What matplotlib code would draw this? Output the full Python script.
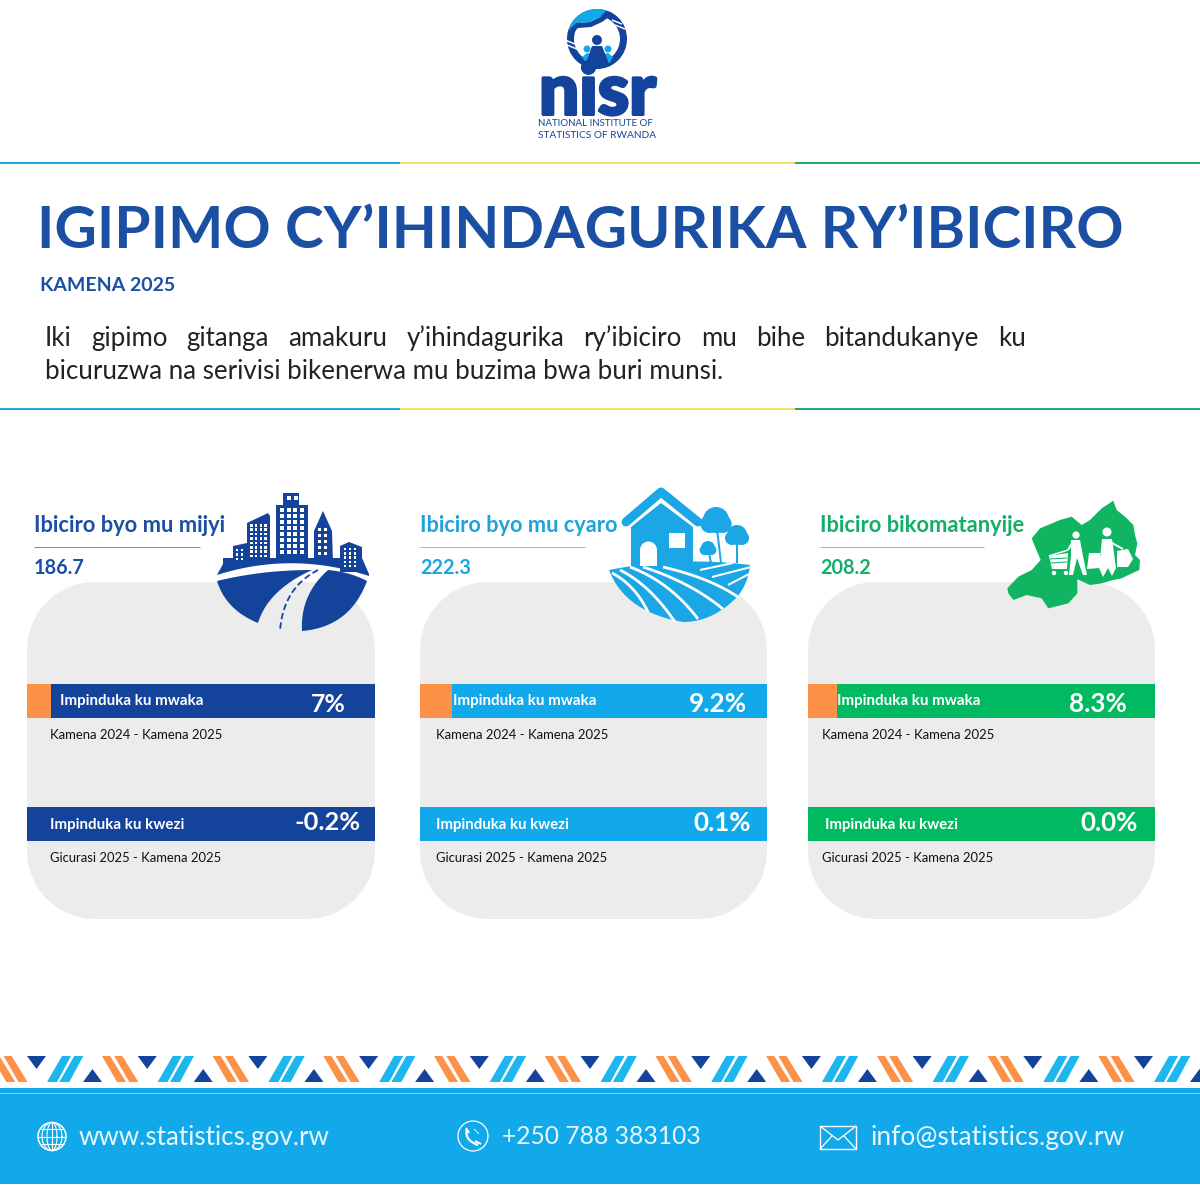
import matplotlib
matplotlib.use("Agg")
import matplotlib.pyplot as plt
import matplotlib.patheffects as pe
import numpy as np
from matplotlib.patches import Polygon, Circle, Rectangle
plt.rcParams['font.family'] = ['Lato', 'Open Sans', 'DejaVu Sans']

# values
card_titles = ["Ibiciro byo mu mijyi", "Ibiciro byo mu cyaro", "Ibiciro bikomatanyije"]
index_values = ["186.7", "222.3", "208.2"]
year_changes = ["7%", "9.2%", "8.3%"]
month_changes = ["-0.2%", "0.1%", "0.0%"]
year_label = "Impinduka ku mwaka"
month_label = "Impinduka ku kwezi"
year_period = "Kamena 2024 - Kamena 2025"
month_period = "Gicurasi 2025 - Kamena 2025"
footer_texts = ["www.statistics.gov.rw", "+250 788 383103", "info@statistics.gov.rw"]
para_line1 = ["Iki", "gipimo", "gitanga", "amakuru", "y\u2019ihindagurika", "ry\u2019ibiciro",
              "mu", "bihe", "bitandukanye", "ku"]
para_line2 = "bicuruzwa na serivisi bikenerwa mu buzima bwa buri munsi."

NAVY = '#14439C'
SKY = '#12A9EA'
GREEN = '#00B960'
ORANGE = '#FC9147'
GREY = '#ECECEC'
TITLE_BLUE = '#1B4FA3'

fig = plt.figure(figsize=(12, 11.85), dpi=100)
ax = fig.add_axes([0, 0, 1, 1])
ax.set_xlim(0, 1200)
ax.set_ylim(1185, 0)
ax.axis('off')
renderer = fig.canvas.get_renderer()


# text that fills a given pixel span, like in the reference
def put(x0, x1, y, s, color, weight='normal', zorder=6):
    t = ax.text(x0, y, s, color=color, fontweight=weight, va='center_baseline', ha='left',
                fontsize=20, zorder=zorder)
    w = t.get_window_extent(renderer).width
    t.set_fontsize(20 * (x1 - x0) / w)
    return t


def rect(x0, y0, x1, y1, color, zorder=2):
    ax.add_patch(Rectangle((x0, y0), x1 - x0, y1 - y0, fc=color, ec='none', zorder=zorder))


def poly(pts, color, zorder=4):
    p = Polygon(pts, closed=True, fc=color, ec='none', zorder=zorder)
    ax.add_patch(p)
    return p


# points along a quadratic curve
def bez(p0, c, p1, n=24):
    t = np.linspace(0, 1, n)[:, None]
    p0, c, p1 = np.array(p0), np.array(c), np.array(p1)
    return (1 - t) ** 2 * p0 + 2 * t * (1 - t) * c + t ** 2 * p1


def arc_line(p0, c, p1, color, lw, zorder=5, **kw):
    pts = bez(p0, c, p1)
    ax.plot(pts[:, 0], pts[:, 1], color=color, lw=lw * 0.72, zorder=zorder, solid_capstyle='butt', **kw)


def circle(x, y, r, color, zorder=4):
    ax.add_patch(Circle((x, y), r, fc=color, ec='none', zorder=zorder))


def line(xs, ys, color, lw, zorder=5, cap='butt', **kw):
    ax.plot(xs, ys, color=color, lw=lw * 0.72, zorder=zorder, solid_capstyle=cap, **kw)


def round_box(x0, y0, x1, y1, r, color, zorder=1):
    th = np.linspace(0, np.pi / 2, 30)
    pts = []
    for cx, cy, start in [(x1 - r, y0 + r, -np.pi / 2), (x1 - r, y1 - r, 0),
                          (x0 + r, y1 - r, np.pi / 2), (x0 + r, y0 + r, np.pi)]:
        pts.append(np.c_[cx + r * np.cos(start + th), cy + r * np.sin(start + th)])
    poly(np.vstack(pts), color, zorder=zorder)


# ---------- logo
clip_disc = Circle((597, 39), 30, transform=ax.transData)
ax.add_patch(Circle((597, 39), 26.5, fc='none', ec=NAVY, lw=7 * 0.72, zorder=3))
navy_cap = poly([(608, 12), (600, 17), (590, 22), (576, 23), (566, 33), (570, 36), (578, 28), (591, 27), (602, 22),
                 (609, 17), (618, 24), (628, 30), (630, 5), (612, 2)], NAVY, zorder=3)
navy_cap.set_clip_path(clip_disc)
sky_cap = poly([(566, 33), (576, 23), (590, 22), (600, 17), (606, 11), (608, 4), (590, 2), (566, 12)], SKY, zorder=4)
sky_cap.set_clip_path(clip_disc)
for bx, by in [(570, 42), (572, 47), (617, 22), (620, 27)]:
    line([bx - 5, bx + 5], [by - 2, by + 2], 'white', 1.5, zorder=6)
circle(587, 49, 3.5, SKY)
circle(608, 49, 3.5, SKY)
poly([(582, 57), (587, 53), (591, 54), (594, 66), (586, 63)], SKY)
poly([(604, 54), (608, 53), (613, 57), (609, 64), (601, 66)], SKY)
circle(597, 40, 5, NAVY, zorder=5)
poly([(592, 46), (602, 46), (610, 66), (597, 69), (585, 66)], NAVY, zorder=5)
t = ax.text(539, 114.5, "nisr", color=NAVY, fontweight='black', fontsize=60, va='baseline', ha='left', zorder=6)
w = t.get_window_extent(renderer).width
t.set_fontsize(60 * 117 / w)
t.set_path_effects([pe.withStroke(linewidth=2.2, foreground=NAVY)])
put(538, 654, 123, "NATIONAL INSTITUTE OF", NAVY)
put(538, 656, 135, "STATISTICS OF RWANDA", NAVY)

# ---------- rules
for y in [163, 409]:
    rect(0, y - 1.2, 400, y + 1.2, '#1FA9D6')
    rect(400, y - 1.2, 795, y + 1.2, '#F7DE6E')
    rect(795, y - 1.2, 1200, y + 1.2, '#1EAE6B')

# ---------- heading
put(37, 1122, 226, "IGIPIMO CY\u2019IHINDAGURIKA RY\u2019IBICIRO", TITLE_BLUE, 'bold')
put(40, 175, 284, "KAMENA 2025", TITLE_BLUE, 'bold')
last = put(45, 724, 369, para_line2, '#222222')
para_size = last.get_fontsize()
word_boxes = []
for word in para_line1:
    word_boxes.append(ax.text(45, 336, word, color='#222222', va='center_baseline', ha='left',
                              fontsize=para_size, zorder=6))
word_w = [b.get_window_extent(renderer).width for b in word_boxes]
gap = (1026 - 45 - sum(word_w)) / (len(word_w) - 1)
cursor = 45
for b, ww in zip(word_boxes, word_w):
    b.set_x(cursor)
    cursor += ww + gap

# ---------- cards
card_x = [(27, 375), (420, 767), (808, 1155)]
card_colors = [NAVY, SKY, GREEN]
title_colors = [TITLE_BLUE, '#1FA3DC', '#12AE6A']
title_x = [(34, 225), (420, 617), (820, 1024)]
rule_x = [(34, 200), (420, 585), (820, 984)]
value_x = [(34, 85), (420, 471), (820, 871)]
orange_end = [51, 452, 837]
year_label_x = [(60, 203), (453, 596), (837, 980)]
year_value_x = [(311, 346), (689, 747), (1069, 1127)]
month_label_x = [(50, 184), (436, 569), (825, 958)]
month_value_x = [(295, 361), (693, 751), (1080, 1138)]
period_x = [50, 436, 822]

for i in range(3):
    x0, x1 = card_x[i]
    round_box(x0, 582, x1, 919, 68, GREY)
    c = card_colors[i]
    put(title_x[i][0], title_x[i][1], 524, card_titles[i], title_colors[i], 'bold')
    line(rule_x[i], [547, 547], c, 1.0, alpha=0.6)
    put(value_x[i][0], value_x[i][1], 566, index_values[i], title_colors[i], 'bold')

    rect(x0, 684, x1, 718, c)
    rect(x0, 684, orange_end[i], 718, ORANGE, zorder=3)
    rect(x0, 807, x1, 841, c)
    put(year_label_x[i][0], year_label_x[i][1], 700, year_label, 'white', 'bold')
    put(year_value_x[i][0], year_value_x[i][1], 702, year_changes[i], 'white', 'bold')
    put(month_label_x[i][0], month_label_x[i][1], 823, month_label, 'white', 'bold')
    put(month_value_x[i][0], month_value_x[i][1], 821, month_changes[i], 'white', 'bold')
    put(period_x[i], period_x[i] + 172, 734, year_period, '#111111')
    put(period_x[i], period_x[i] + 171, 857, month_period, '#111111')

# ---------- city icon
for b in [[(233, 546), (247, 543), (247, 562), (233, 562)],
          [(247, 523), (268, 513), (270, 516), (270, 562), (247, 562)],
          [(276, 505), (283, 505), (283, 493), (299, 493), (299, 505), (308, 505), (308, 562), (276, 562)],
          [(314, 531), (323, 511), (332, 531), (333, 562), (314, 562)],
          [(340, 546), (349, 542), (362, 547), (362, 572), (340, 572)]]:
    poly(b, NAVY, zorder=3)
base = np.vstack([[(223, 558), (362, 558), (369, 574)], bez((369, 576), (292, 551), (217, 575)), [(223, 564)]])
poly(base, NAVY, zorder=3)
for gx, gy, nx, ny, s, dx, dy in [(280, 508, 4, 8, 4, 6.6, 6), (287, 496, 2, 1, 4, 6.6, 5),
                                  (250, 524, 4, 8, 2.6, 4.8, 4.4), (236, 549, 2, 3, 2.4, 4.5, 4.4),
                                  (318, 528, 2, 5, 3.4, 6, 6), (344, 548, 3, 5, 2.4, 5, 4.2)]:
    for a in range(nx):
        for b in range(ny):
            rect(gx + a * dx, gy + b * dy, gx + a * dx + s, gy + b * dy + s, 'white', zorder=4)
left_bowl = np.vstack([bez((217, 581), (262, 570), (312, 570)), bez((312, 570), (268, 590), (258, 623)),
                       bez((258, 623), (226, 610), (217, 581))])
right_bowl = np.vstack([bez((328, 570), (350, 572), (367, 581)), bez((367, 581), (350, 627), (302, 631)),
                        bez((302, 631), (300, 595), (328, 570))])
poly(left_bowl, NAVY)
poly(right_bowl, NAVY)
arc_line((318, 570), (283, 588), (280, 631), NAVY, 1.8, linestyle=(0, (3.5, 1.8)))

# ---------- house icon
SKY_ICON = '#1BA7E6'
poly([(631, 527), (661, 503), (693, 527), (693, 568), (631, 568)], SKY_ICON)
line([626, 661, 698], [522, 492, 522], SKY_ICON, 9, cap='round', solid_joinstyle='round')
rect(669, 533, 685, 548, 'white', zorder=5)
rect(640, 550, 657, 566, 'white', zorder=5)
circle(648.5, 550, 8.5, 'white', zorder=5)
for tx, ty, r, fx in [(716, 520, 13, 721), (737, 535, 10, 737), (708, 548, 7, 711)]:
    circle(tx, ty, r, SKY_ICON)
    circle(tx - r * 0.5, ty + r * 0.3, r * 0.7, SKY_ICON)
    circle(tx + r * 0.5, ty + r * 0.3, r * 0.7, SKY_ICON)
    line([tx, fx], [ty, 563], SKY_ICON, 2)
field = np.vstack([bez((609, 570), (680, 556), (750, 565)), bez((750, 565), (748, 585), (736, 598)),
                   bez((736, 598), (712, 622), (683, 622)), bez((683, 622), (625, 612), (609, 570))])
poly(field, SKY_ICON)
for sx, sy, cx, cy, ex, ey in [(612, 573, 635, 585, 648, 612), (620, 570, 650, 585, 675, 622),
                               (630, 567, 670, 582, 698, 619), (643, 567, 690, 582, 723, 609),
                               (663, 567, 710, 578, 738, 597)]:
    arc_line((sx, sy), (cx, cy), (ex, ey), 'white', 2.8)
line([700, 733], [570, 563], 'white', 2)
line([712, 751], [577, 567], 'white', 2)
line([728, 751], [585, 573], 'white', 2)

# ---------- map icon
map_z = np.array([(695, 175), (720, 145), (780, 120), (815, 110), (845, 135), (870, 120), (905, 85), (940, 62),
                  (950, 90), (975, 110), (1000, 135), (1005, 165), (1012, 190), (1005, 225), (1020, 240),
                  (1018, 270), (985, 285), (965, 295), (940, 300), (905, 310), (870, 315), (832, 298),
                  (832, 340), (805, 370), (745, 385), (725, 355), (680, 345), (640, 360), (625, 340),
                  (622, 325), (655, 290), (695, 270), (722, 240), (705, 200)])
poly(map_z / 3 + [800, 480], '#10B562')
# shopper with cart
circle(1076, 535, 3.6, 'white', zorder=5)
poly([(1071, 540), (1080, 540), (1083, 556), (1087, 575), (1083, 575), (1077, 558), (1073, 575),
      (1069, 575), (1071, 555)], 'white', zorder=5)
line([1072, 1068], [543, 550], 'white', 2)
line([1049, 1068], [556, 550], 'white', 1.6)
poly([(1049, 556), (1068, 553), (1067, 569), (1052, 569)], 'white', zorder=5)
for cy in [559, 563]:
    line([1050, 1067], [cy, cy - 1], '#10B562', 1)
circle(1054, 573, 2.2, 'white', zorder=5)
circle(1066, 573, 2.2, 'white', zorder=5)
# woman with bags
circle(1107, 532, 4.5, 'white', zorder=5)
poly([(1102, 539), (1112, 539), (1116, 568), (1112, 576), (1108, 568), (1103, 577), (1099, 568)], 'white', zorder=5)
poly([(1089, 553), (1100, 553), (1100, 568), (1087, 569)], 'white', zorder=5)
poly([(1117, 551), (1128, 549), (1133, 559), (1128, 567), (1117, 567)], 'white', zorder=5)
line([1110, 1123], [542, 549], 'white', 2)

# ---------- footer pattern
period = 110.7
for k in range(-1, 12):
    o = k * period
    for dx in [0, 12.3]:
        poly([(102 + dx + o, 1056), (110 + dx + o, 1056), (126 + dx + o, 1082), (117 + dx + o, 1082)], ORANGE, zorder=3)
        poly([(62 + dx + o, 1056), (71 + dx + o, 1056), (57 + dx + o, 1082), (47 + dx + o, 1082)], '#1DB6EE', zorder=3)
    poly([(27 + o, 1056), (46 + o, 1056), (36.5 + o, 1069)], NAVY, zorder=3)
    poly([(83 + o, 1082), (102 + o, 1082), (92.5 + o, 1069)], NAVY, zorder=3)

rect(0, 1088, 1200, 1184, SKY, zorder=2)
rect(0, 1093, 1200, 1094, '#7FD4F5', zorder=3)

# ---------- footer icons and texts
footer_x = [(79, 330), (502, 700), (870, 1124)]
for (fx0, fx1), s in zip(footer_x, footer_texts):
    put(fx0, fx1, 1135, s, '#E8F7FE')

ax.add_patch(Circle((52, 1136.5), 14, fc='none', ec='white', lw=1.1, zorder=5))
for rx in [5, 10]:
    th = np.linspace(0, 2 * np.pi, 60)
    ax.plot(52 + rx * np.cos(th), 1136.5 + 14 * np.sin(th), color='white', lw=0.8, zorder=5)
line([52, 52], [1122.5, 1150.5], 'white', 1.1)
for ly, hw in [(1129, 11.5), (1136.5, 14), (1144, 11.5)]:
    line([52 - hw, 52 + hw], [ly, ly], 'white', 1.1)

ax.add_patch(Circle((473, 1136), 15, fc='none', ec='white', lw=0.9, zorder=5))
arc_line((467, 1129), (464, 1140), (478, 1145), 'white', 2.2)
line([466, 469], [1128, 1133], 'white', 2)
line([475, 481], [1141, 1144], 'white', 2)
line([474, 479], [1129, 1134], 'white', 0.9)

ax.add_patch(Rectangle((820, 1126), 36, 23, fc='none', ec='white', lw=1.0, zorder=5))
line([820, 838, 856], [1126, 1140, 1126], 'white', 1.3)
line([820, 832], [1149, 1136], 'white', 1.3)
line([856, 844], [1149, 1136], 'white', 1.3)

fig.savefig("out.png", dpi=100, facecolor='white')
